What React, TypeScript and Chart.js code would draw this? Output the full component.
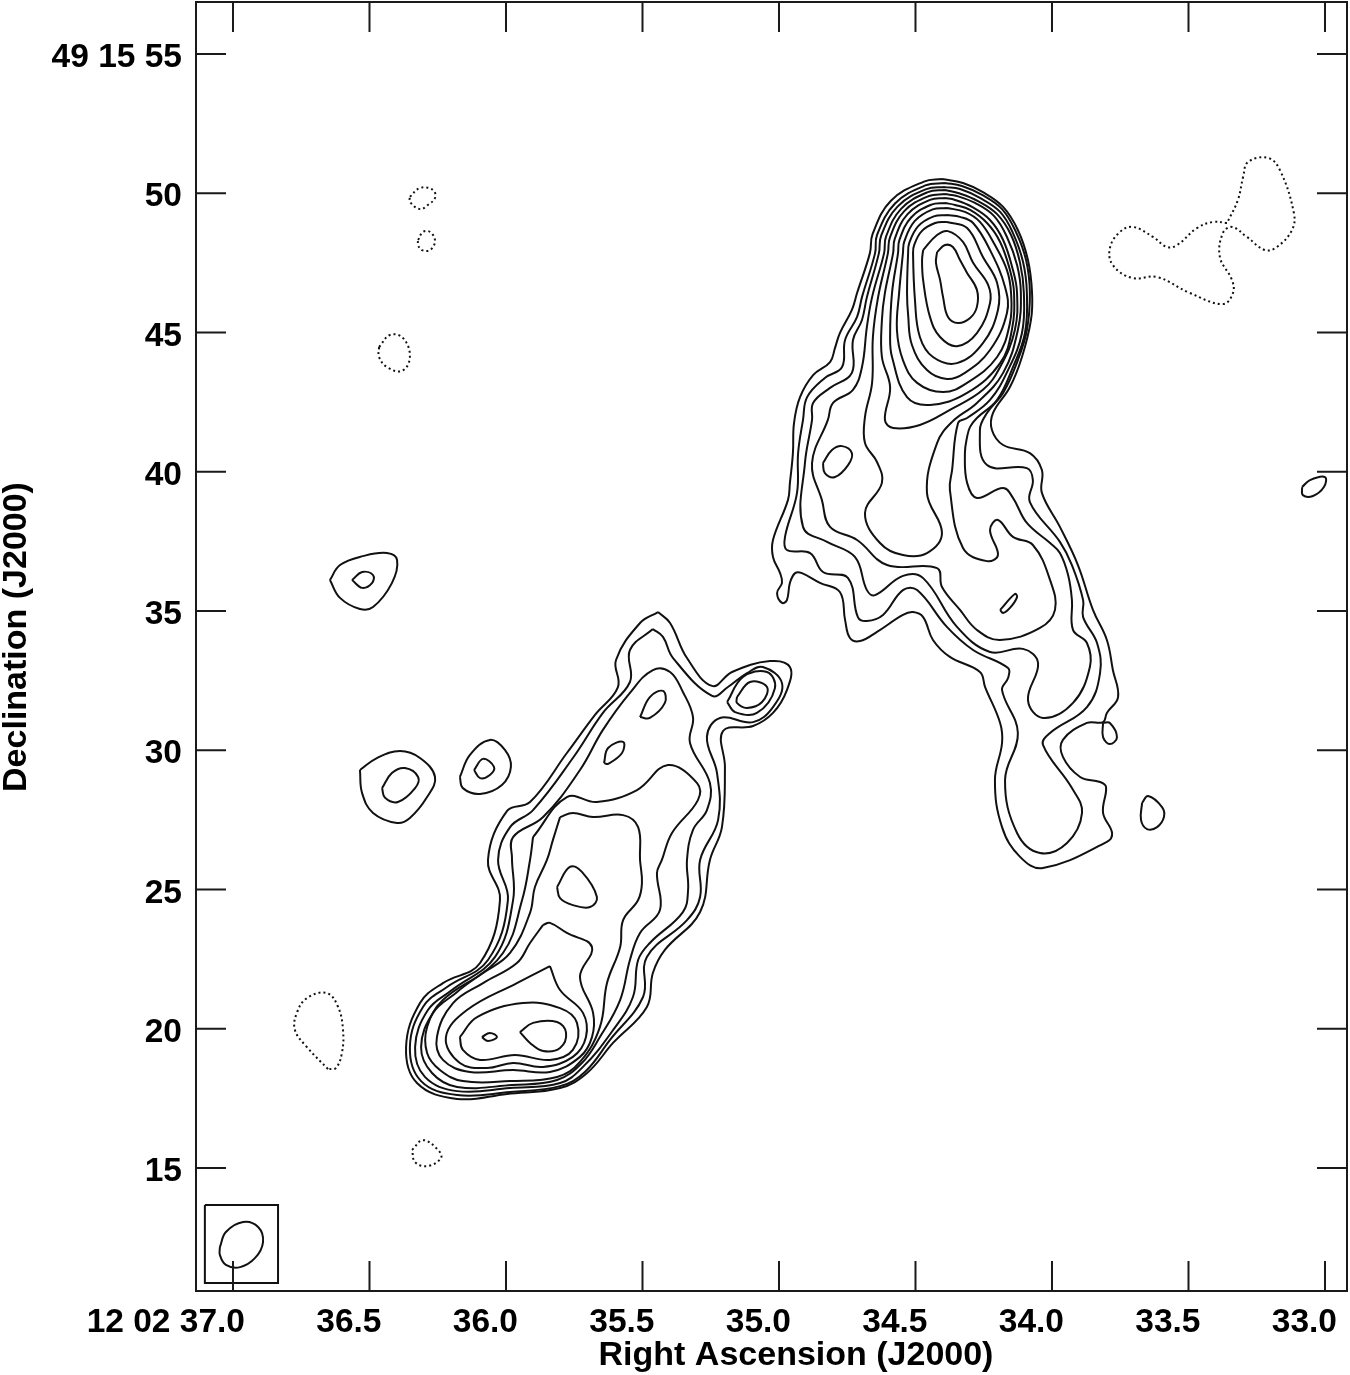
import React, { useEffect, useRef } from "react";
import { Chart, registerables } from "chart.js";

Chart.register(...registerables);

type Pt = [number, number];

const raTicks = [37.0, 36.5, 36.0, 35.5, 35.0, 34.5, 34.0, 33.5, 33.0];
const raLabels = ["12 02 37.0", "36.5", "36.0", "35.5", "35.0", "34.5", "34.0", "33.5", "33.0"];
const decTicks = [55, 50, 45, 40, 35, 30, 25, 20, 15];
const decLabels = ["49 15 55", "50", "45", "40", "35", "30", "25", "20", "15"];
const raRange = { min: 32.9194, max: 37.1355 };
const decRange = { min: 10.583, max: 56.867 };

// north lobe, outer to inner
const north1: Pt[] = [[34.403,50.51],[34.469,50.42],[34.590,49.73],[34.657,48.54],[34.667,47.85],[34.714,46.42],[34.733,45.81],[34.777,44.98],[34.795,44.44],[34.813,43.94],[34.875,43.47],[34.923,42.68],[34.945,41.75],[34.949,40.67],[34.960,39.60],[34.967,38.99],[35.022,37.55],[35.022,36.94],[34.996,36.36],[34.989,36.01],[35.007,35.65],[34.989,35.29],[34.971,35.39],[34.960,36.01],[34.941,36.36],[34.916,36.36],[34.850,36.01],[34.777,35.68],[34.758,34.68],[34.740,34.03],[34.703,33.92],[34.641,34.25],[34.546,34.86],[34.509,34.96],[34.472,34.78],[34.436,33.96],[34.374,33.35],[34.264,32.81],[34.245,32.27],[34.190,30.98],[34.183,30.26],[34.209,28.93],[34.183,27.24],[34.117,26.17],[34.033,25.77],[33.799,26.71],[33.780,27.03],[33.813,27.75],[33.802,28.68],[33.824,28.86],[33.897,29.04],[33.960,29.76],[33.960,30.37],[33.872,30.98],[33.813,31.01],[33.799,31.34],[33.758,31.91],[33.777,32.88],[33.799,33.96],[33.850,35.04],[33.905,36.65],[33.971,38.02],[34.037,39.24],[34.037,40.06],[34.081,40.67],[34.179,40.96],[34.220,41.50],[34.216,42.11],[34.154,43.04],[34.110,44.12],[34.077,45.45],[34.073,46.42],[34.088,47.60],[34.125,48.68],[34.179,49.51],[34.253,50.04],[34.326,50.37]];
const north2: Pt[] = [[34.392,50.37],[34.464,50.28],[34.575,49.63],[34.641,48.50],[34.648,47.85],[34.696,46.27],[34.714,45.56],[34.758,44.73],[34.769,43.76],[34.832,43.37],[34.897,42.68],[34.912,41.86],[34.930,40.67],[34.934,39.24],[34.978,37.66],[34.971,37.19],[34.886,37.08],[34.839,36.40],[34.747,36.18],[34.711,34.78],[34.678,34.64],[34.619,34.86],[34.546,35.75],[34.494,35.75],[34.385,34.43],[34.289,33.60],[34.161,32.95],[34.161,32.59],[34.183,32.16],[34.125,30.62],[34.172,28.93],[34.128,27.03],[34.044,26.31],[33.945,26.67],[33.890,27.75],[33.927,28.64],[34.033,30.19],[34.007,30.62],[33.872,31.55],[33.824,32.77],[33.835,33.85],[33.886,34.78],[33.886,35.39],[33.927,36.65],[33.971,37.48],[34.081,38.91],[34.070,39.70],[34.092,40.13],[34.238,40.24],[34.264,41.50],[34.238,42.11],[34.179,42.83],[34.125,44.01],[34.092,45.09],[34.081,46.42],[34.095,47.60],[34.132,48.61],[34.183,49.43],[34.256,49.94],[34.330,50.26]];
const north3: Pt[] = [[34.392,50.22],[34.460,50.15],[34.565,49.53],[34.626,48.47],[34.634,47.85],[34.678,46.27],[34.696,45.45],[34.729,44.73],[34.733,43.55],[34.813,43.01],[34.875,42.47],[34.879,41.86],[34.905,40.31],[34.912,38.02],[34.824,37.48],[34.722,36.94],[34.678,35.75],[34.648,35.57],[34.546,36.26],[34.472,36.18],[34.348,34.43],[34.227,33.53],[34.106,33.64],[34.051,33.13],[34.088,31.80],[34.033,31.16],[33.923,31.70],[33.861,33.00],[33.872,33.85],[33.923,34.32],[33.927,35.39],[33.941,36.29],[33.971,37.08],[34.007,37.44],[34.092,38.16],[34.143,39.06],[34.179,39.42],[34.275,39.06],[34.311,39.60],[34.319,40.67],[34.311,41.25],[34.300,41.61],[34.275,41.93],[34.201,42.58],[34.143,43.76],[34.099,44.98],[34.092,46.42],[34.106,47.53],[34.143,48.57],[34.190,49.33],[34.264,49.83],[34.337,50.15]];
const north4: Pt[] = [[34.392,50.12],[34.455,50.04],[34.552,49.45],[34.608,48.44],[34.615,47.85],[34.659,46.27],[34.678,45.20],[34.696,43.76],[34.729,42.94],[34.802,42.47],[34.821,41.86],[34.879,40.31],[34.843,38.99],[34.813,38.02],[34.714,37.55],[34.604,36.65],[34.421,36.54],[34.403,35.86],[34.337,35.04],[34.275,34.32],[34.190,33.96],[34.044,34.39],[33.989,35.04],[34.007,36.11],[34.070,37.37],[34.143,37.66],[34.198,38.27],[34.227,37.91],[34.198,37.01],[34.238,36.79],[34.326,37.26],[34.374,39.34],[34.366,40.06],[34.344,41.75],[34.311,41.93],[34.227,42.58],[34.161,43.65],[34.110,44.98],[34.103,46.42],[34.117,47.50],[34.150,48.50],[34.201,49.25],[34.271,49.72],[34.344,50.01]];
const north5: Pt[] = [[34.392,49.97],[34.451,49.90],[34.542,49.35],[34.594,48.40],[34.601,47.85],[34.637,46.27],[34.656,44.84],[34.659,43.19],[34.685,41.97],[34.685,41.03],[34.641,40.35],[34.623,39.60],[34.685,38.52],[34.630,37.44],[34.546,37.01],[34.458,37.08],[34.403,37.80],[34.458,39.24],[34.421,41.03],[34.366,41.79],[34.275,42.47],[34.179,43.55],[34.125,45.09],[34.114,46.42],[34.128,47.42],[34.165,48.43],[34.212,49.18],[34.282,49.65],[34.348,49.90]];
const north6: Pt[] = [[34.392,49.83],[34.447,49.76],[34.529,49.25],[34.576,48.36],[34.582,47.85],[34.612,46.42],[34.623,45.45],[34.623,44.12],[34.593,43.04],[34.612,41.86],[34.582,41.57],[34.484,41.68],[34.374,42.22],[34.253,42.94],[34.190,43.76],[34.136,45.09],[34.128,46.42],[34.143,47.24],[34.179,48.32],[34.227,49.04],[34.293,49.51],[34.355,49.76]];
const north7: Pt[] = [[34.392,49.65],[34.442,49.59],[34.516,49.13],[34.559,48.32],[34.564,47.85],[34.586,46.42],[34.593,44.84],[34.586,44.12],[34.531,42.68],[34.447,42.40],[34.311,42.83],[34.190,43.90],[34.147,45.09],[34.139,46.42],[34.154,47.24],[34.190,48.25],[34.238,48.93],[34.300,49.40],[34.355,49.58]];
const north8: Pt[] = [[34.385,49.47],[34.437,49.42],[34.503,49.00],[34.541,48.27],[34.546,47.85],[34.560,46.42],[34.568,45.09],[34.546,44.01],[34.494,43.19],[34.399,42.86],[34.311,43.19],[34.201,44.12],[34.154,45.34],[34.150,46.42],[34.165,47.24],[34.209,48.14],[34.264,48.97],[34.319,49.33]];
const north9: Pt[] = [[34.385,49.22],[34.433,49.17],[34.490,48.82],[34.523,48.21],[34.527,47.85],[34.531,46.42],[34.527,45.63],[34.513,44.55],[34.458,43.65],[34.385,43.33],[34.319,43.55],[34.227,44.37],[34.165,45.70],[34.172,46.63],[34.227,47.96],[34.289,48.93],[34.337,49.15]];
const north10: Pt[] = [[34.385,48.97],[34.428,48.93],[34.477,48.64],[34.505,48.14],[34.509,47.85],[34.502,46.17],[34.484,44.84],[34.436,44.12],[34.348,43.90],[34.253,44.62],[34.198,45.81],[34.201,46.78],[34.253,47.71],[34.311,48.75]];
const north11: Pt[] = [[34.472,47.96],[34.421,48.50],[34.381,48.64],[34.326,48.25],[34.289,47.50],[34.234,46.71],[34.227,46.06],[34.275,44.98],[34.348,44.51],[34.410,44.84],[34.447,45.56],[34.472,46.88],[34.476,47.60]];
const north12: Pt[] = [[34.421,47.89],[34.392,48.14],[34.363,48.07],[34.337,47.60],[34.311,47.14],[34.275,46.53],[34.275,45.92],[34.300,45.52],[34.344,45.34],[34.381,45.56],[34.399,46.27],[34.410,46.89],[34.425,47.50]];
const northKnotW: Pt[] = [[34.839,40.31],[34.806,40.78],[34.769,40.92],[34.733,40.67],[34.747,40.24],[34.795,39.81],[34.832,39.95]];
const northKnotE: Pt[] = [[34.190,35.04],[34.136,35.61],[34.128,35.50],[34.154,35.11],[34.179,34.93]];
const dripE: Pt[] = [[33.813,30.98],[33.813,30.47],[33.788,30.22],[33.762,30.47],[33.788,30.98]];
const spotSE: Pt[] = [[33.670,28.11],[33.648,28.36],[33.597,27.96],[33.590,27.60],[33.615,27.24],[33.652,27.17],[33.674,27.50]];
const spotFarE: Pt[] = [[33.084,39.45],[33.055,39.70],[33.000,39.81],[33.004,39.45],[33.044,39.13],[33.081,39.16]];

// south lobe, outer to inner
const south1: Pt[] = [[35.443,34.96],[35.509,34.57],[35.597,33.24],[35.590,32.27],[35.674,31.27],[35.777,29.90],[35.912,28.14],[35.996,27.82],[36.066,26.06],[36.022,24.62],[36.095,22.36],[36.231,21.64],[36.315,20.92],[36.366,19.34],[36.326,18.05],[36.179,17.48],[35.996,17.66],[35.802,17.87],[35.703,18.41],[35.608,19.49],[35.484,20.78],[35.462,22.00],[35.418,22.83],[35.289,24.19],[35.253,26.06],[35.209,27.24],[35.198,29.40],[35.205,30.69],[35.095,30.87],[35.022,31.34],[34.971,32.16],[34.960,32.99],[35.033,33.20],[35.172,32.81],[35.245,32.31],[35.337,33.31],[35.399,34.57]];
const south2: Pt[] = [[35.462,34.35],[35.546,33.60],[35.546,32.45],[35.645,31.34],[35.755,29.72],[35.901,27.85],[35.985,27.24],[36.029,26.06],[35.993,24.62],[36.066,22.47],[36.216,21.50],[36.304,20.78],[36.352,19.34],[36.311,18.12],[36.179,17.62],[35.985,17.73],[35.802,17.94],[35.711,18.45],[35.619,19.60],[35.498,21.14],[35.484,22.58],[35.337,23.90],[35.289,24.73],[35.289,26.06],[35.223,27.50],[35.227,29.18],[35.264,30.48],[35.216,31.16],[35.095,31.01],[35.022,31.55],[34.989,32.41],[35.059,32.99],[35.117,32.77],[35.187,32.27],[35.245,31.95],[35.388,33.31],[35.425,34.07]];
const south3: Pt[] = [[35.978,26.06],[35.974,26.88],[35.864,27.60],[35.729,29.29],[35.645,30.73],[35.546,32.06],[35.462,32.88],[35.399,32.81],[35.352,32.09],[35.315,31.19],[35.326,30.26],[35.253,28.82],[35.264,27.85],[35.315,27.14],[35.337,26.06],[35.333,24.98],[35.352,24.19],[35.473,23.08],[35.516,22.47],[35.535,21.14],[35.608,19.95],[35.718,18.63],[35.802,18.05],[35.985,17.87],[36.179,17.76],[36.297,18.27],[36.333,19.34],[36.286,20.67],[36.198,21.39],[36.040,22.58],[35.974,24.62]];
const south4: Pt[] = [[35.901,26.88],[35.912,26.06],[35.941,24.62],[36.011,22.72],[36.179,21.32],[36.267,20.57],[36.311,19.34],[36.271,18.41],[36.179,17.91],[35.978,17.98],[35.813,18.16],[35.722,18.77],[35.656,19.70],[35.582,21.03],[35.546,22.47],[35.509,23.44],[35.436,24.26],[35.447,25.59],[35.429,26.06],[35.392,27.03],[35.297,28.21],[35.300,28.82],[35.407,29.47],[35.520,28.57],[35.667,28.14],[35.777,28.32]];
const south5: Pt[] = [[35.802,27.60],[35.828,26.78],[35.850,26.06],[35.894,25.09],[35.912,24.16],[35.985,22.72],[36.084,22.00],[36.231,21.03],[36.289,20.06],[36.289,19.13],[36.242,18.52],[36.158,18.12],[35.985,18.12],[35.813,18.27],[35.729,18.81],[35.656,20.06],[35.630,21.64],[35.582,22.93],[35.571,23.90],[35.516,24.62],[35.502,25.23],[35.509,26.06],[35.516,27.24],[35.571,27.67],[35.681,27.60],[35.755,27.75]];
const south6: Pt[] = [[35.864,23.73],[35.912,23.08],[35.960,22.36],[36.084,21.64],[36.194,20.92],[36.253,19.70],[36.231,18.88],[36.132,18.45],[35.974,18.52],[35.839,18.45],[35.729,18.99],[35.685,19.70],[35.681,20.57],[35.729,21.86],[35.685,22.93],[35.777,23.44],[35.839,23.80]];
const south7: Pt[] = [[35.839,22.25],[35.960,21.64],[36.143,20.67],[36.220,19.70],[36.169,18.77],[36.070,18.59],[35.974,18.77],[35.864,18.63],[35.755,18.99],[35.707,19.70],[35.718,20.57],[35.802,21.39]];
const south8: Pt[] = [[36.169,19.70],[36.106,20.42],[35.938,20.92],[35.802,20.74],[35.740,20.21],[35.755,19.24],[35.839,18.88],[35.967,19.06],[36.095,18.88],[36.158,19.24]];
const south9: Pt[] = [[35.949,19.88],[35.901,20.21],[35.813,20.24],[35.780,19.85],[35.802,19.31],[35.864,19.20],[35.912,19.49]];
const southPeakW: Pt[] = [[36.088,19.70],[36.059,19.85],[36.033,19.70],[36.066,19.56]];
const southMid: Pt[] = [[35.813,25.09],[35.766,25.81],[35.722,25.63],[35.667,24.73],[35.692,24.37],[35.755,24.44],[35.802,24.69]];
const southKnotA: Pt[] = [[35.509,31.19],[35.473,31.91],[35.425,32.13],[35.418,31.70],[35.473,31.16]];
const southKnotB: Pt[] = [[35.641,29.54],[35.626,30.08],[35.571,30.30],[35.575,29.90],[35.626,29.51]];
const ringOuter: Pt[] = [[35.190,31.73],[35.132,32.63],[35.044,32.81],[35.015,32.23],[35.081,31.34],[35.161,31.37]];
const ringInner: Pt[] = [[35.154,31.91],[35.106,32.45],[35.044,32.27],[35.062,31.73],[35.117,31.52],[35.154,31.70]];

// isolated sources
const islandAOuter: Pt[] = [[36.645,36.11],[36.608,36.65],[36.524,36.97],[36.436,37.08],[36.399,36.83],[36.418,36.00],[36.487,35.14],[36.535,35.07],[36.608,35.47]];
const islandAInner: Pt[] = [[36.564,36.11],[36.527,36.40],[36.487,36.29],[36.491,36.00],[36.527,35.83]];
const islandBOuter: Pt[] = [[36.535,29.29],[36.473,29.72],[36.388,29.97],[36.315,29.72],[36.260,29.04],[36.289,28.32],[36.352,27.57],[36.399,27.39],[36.487,27.75],[36.527,28.46]];
const islandBInner: Pt[] = [[36.454,28.64],[36.418,29.18],[36.370,29.36],[36.322,29.04],[36.333,28.64],[36.396,28.14],[36.443,28.29]];
const islandCOuter: Pt[] = [[36.169,29.04],[36.132,29.83],[36.059,30.37],[36.004,30.01],[35.982,29.40],[36.015,28.75],[36.095,28.43],[36.158,28.64]];
const islandCInner: Pt[] = [[36.117,29.29],[36.084,29.69],[36.044,29.40],[36.059,29.11],[36.095,29.00]];

// negative contours
const negNE: Pt[] = [[33.359,48.93],[33.410,48.97],[33.469,48.75],[33.542,48.14],[33.579,48.07],[33.630,48.43],[33.703,48.79],[33.751,48.61],[33.788,48.03],[33.777,47.42],[33.707,46.96],[33.615,46.99],[33.495,46.42],[33.374,46.02],[33.337,46.42],[33.341,46.89],[33.385,47.71],[33.374,48.57],[33.341,48.79],[33.286,48.43],[33.220,47.96],[33.176,48.07],[33.121,48.68],[33.114,49.29],[33.165,50.83],[33.209,51.27],[33.282,51.12],[33.300,50.58],[33.319,49.76]];
const negA: Pt[] = [[36.352,49.87],[36.315,50.19],[36.267,50.12],[36.260,49.83],[36.286,49.58],[36.315,49.43],[36.352,49.69]];
const negB: Pt[] = [[36.322,48.32],[36.304,48.61],[36.278,48.61],[36.260,48.29],[36.278,47.96],[36.308,47.96],[36.322,48.14]];
const negC: Pt[] = [[36.465,44.48],[36.425,44.91],[36.377,44.80],[36.352,44.12],[36.381,43.62],[36.436,43.76],[36.465,44.12]];
const negD: Pt[] = [[36.652,18.55],[36.729,19.34],[36.773,19.95],[36.766,20.57],[36.729,21.10],[36.656,21.28],[36.615,20.78],[36.597,19.95],[36.601,19.13],[36.623,18.59]];
const negE: Pt[] = [[36.344,15.65],[36.304,16.00],[36.249,15.65],[36.238,15.36],[36.286,15.07],[36.333,15.21]];

// synthesized beam and its box
const beam: Pt[] = [[37.048,12.16],[37.026,12.70],[36.963,13.06],[36.908,12.88],[36.890,12.34],[36.919,11.77],[36.974,11.44],[37.026,11.52],[37.048,11.88]];
const beamBox: Pt[] = [[37.103,13.67],[36.835,13.67],[36.835,10.87],[37.103,10.87],[37.103,13.67]];

const solidContours = [north1,north2,north3,north4,north5,north6,north7,north8,north9,north10,north11,north12,northKnotW,northKnotE,dripE,spotSE,spotFarE,south1,south2,south3,south4,south5,south6,south7,south8,south9,southPeakW,southMid,southKnotA,southKnotB,ringOuter,ringInner,islandAOuter,islandAInner,islandBOuter,islandBInner,islandCOuter,islandCInner,beam];
const dashedContours = [negNE,negA,negB,negC,negD,negE];

const toPoints = (line: Pt[]) => line.map(([x, y]) => ({ x, y }));
const closed = (line: Pt[]) => toPoints([...line, line[0]]);

const frameAndTicks = {
  id: "frameAndTicks",
  afterDatasetsDraw(chart: any) {
    const { ctx, chartArea: a, scales } = chart;
    const len = 30;
    ctx.save();
    ctx.strokeStyle = "#1a1a1a";
    ctx.lineWidth = 2;
    ctx.strokeRect(a.left, a.top, a.right - a.left, a.bottom - a.top);
    ctx.beginPath();
    raTicks.forEach((v) => {
      const p = scales.x.getPixelForValue(v);
      ctx.moveTo(p, a.top); ctx.lineTo(p, a.top + len);
      ctx.moveTo(p, a.bottom); ctx.lineTo(p, a.bottom - len);
    });
    decTicks.forEach((v) => {
      const p = scales.y.getPixelForValue(v);
      ctx.moveTo(a.left, p); ctx.lineTo(a.left + len, p);
      ctx.moveTo(a.right, p); ctx.lineTo(a.right - len, p);
    });
    ctx.stroke();
    ctx.fillStyle = "#000";
    ctx.font = "bold 34px 'Liberation Sans'";
    ctx.textAlign = "center";
    ctx.textBaseline = "middle";
    ctx.fillText("Right Ascension (J2000)", 796, 1356);
    ctx.translate(17, 637);
    ctx.rotate(-Math.PI / 2);
    ctx.fillText("Declination (J2000)", 0, 0);
    ctx.restore();
  },
};

const fixBox = (size: (s: any) => void) => (s: any) => {
  size(s);
  s.paddingLeft = s.paddingRight = s.paddingTop = s.paddingBottom = 0;
};

export default function App() {
  const ref = useRef<HTMLCanvasElement>(null);
  useEffect(() => {
    const font = { family: "'Liberation Sans'", size: 33.5, weight: "bold" as const };
    const style = { borderColor: "#111", pointRadius: 0, showLine: true, fill: false };
    const chart = new Chart(ref.current!, {
      type: "scatter",
      data: {
        datasets: [
          ...solidContours.map((c) => ({ ...style, data: closed(c), borderWidth: 2, tension: 0.4 })),
          ...dashedContours.map((c) => ({ ...style, data: closed(c), borderWidth: 2, tension: 0.4, borderDash: [2, 3] })),
          { ...style, data: toPoints(beamBox), borderWidth: 2, tension: 0 },
        ],
      },
      options: {
        responsive: false,
        animation: false,
        devicePixelRatio: 1,
        layout: { padding: { top: 2, right: 3, left: 0, bottom: 0 } },
        plugins: { legend: { display: false }, tooltip: { enabled: false }, title: { display: false } },
        scales: {
          x: {
            type: "linear",
            reverse: true,
            min: raRange.min,
            max: raRange.max,
            grid: { display: false },
            border: { display: false },
            afterBuildTicks: (s: any) => { s.ticks = raTicks.map((value) => ({ value })); },
            afterFit: fixBox((s) => { s.height = 84; }),
            ticks: {
              autoSkip: false,
              maxRotation: 0,
              align: "end",
              labelOffset: 12,
              padding: 4,
              color: "#000",
              font,
              callback: (v: any) => raLabels[raTicks.indexOf(Number(v))],
            },
          },
          y: {
            type: "linear",
            min: decRange.min,
            max: decRange.max,
            grid: { display: false },
            border: { display: false },
            afterBuildTicks: (s: any) => { s.ticks = decTicks.map((value) => ({ value })); },
            afterFit: fixBox((s) => { s.width = 196; }),
            ticks: {
              autoSkip: false,
              padding: 6,
              labelOffset: 4,
              color: "#000",
              font,
              callback: (v: any) => decLabels[decTicks.indexOf(Number(v))],
            },
          },
        },
      },
      plugins: [frameAndTicks],
    } as any);
    return () => chart.destroy();
  }, []);
  return (
    <canvas
      ref={ref}
      width={1350}
      height={1375}
      style={{ position: "absolute", left: 0, top: 0, display: "block", background: "#fff" }}
    />
  );
}
